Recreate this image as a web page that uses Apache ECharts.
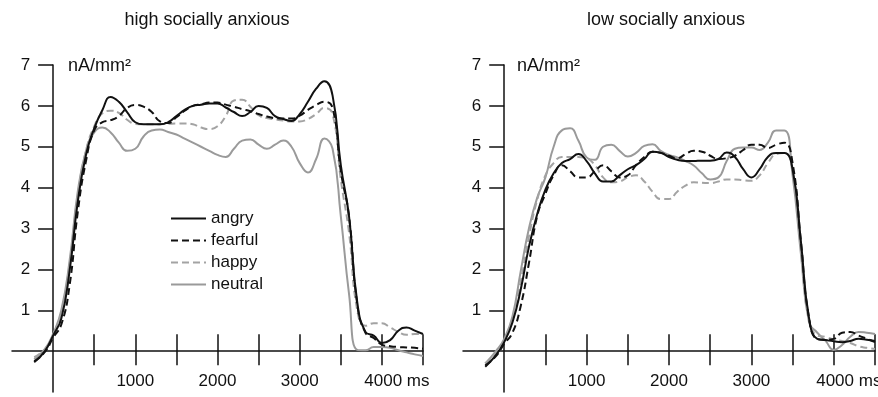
<!DOCTYPE html>
<html>
<head>
<meta charset="utf-8">
<script src="https://cdn.jsdelivr.net/npm/echarts@6/dist/echarts.min.js"></script>
<style>
  html, body { margin: 0; padding: 0; background: #fff; }
  #chart { width: 878px; height: 397px; }
</style>
</head>
<body>
<div id="chart"></div>
<script>
  // time points (ms)
  const times = [-230, -100, 0, 100, 200, 300, 400, 500, 600, 700, 800, 900,
    1000, 1100, 1200, 1300, 1400, 1500, 1600, 1700, 1800, 1900,
    2000, 2100, 2200, 2300, 2400, 2500, 2600, 2700, 2800, 2900,
    3000, 3100, 3200, 3300, 3400, 3500, 3600, 3700, 3800, 3900,
    4000, 4100, 4200, 4300, 4400, 4500]

  const emotions = ['angry', 'fearful', 'happy', 'neutral']

  // high socially anxious
  const highAngry = [-0.27, 0.0, 0.38, 0.8, 1.95, 3.65, 4.8, 5.45, 5.9, 6.22, 6.1, 5.85,
    5.6, 5.55, 5.55, 5.55, 5.6, 5.75, 5.9, 6.0, 6.03, 6.06,
    6.06, 5.96, 5.85, 5.75, 5.85, 6.0, 5.95, 5.75, 5.68, 5.63,
    5.8, 6.1, 6.42, 6.6, 6.25, 4.55, 3.3, 1.2, 0.47, 0.38,
    0.2, 0.27, 0.5, 0.58, 0.5, 0.42]
  const highFearful = [-0.25, -0.02, 0.33, 0.65, 1.6, 3.4, 4.65, 5.4, 5.6, 5.65, 5.75, 5.95,
    6.02, 5.98, 5.85, 5.62, 5.58, 5.72, 5.88, 6.0, 6.04, 6.08,
    6.08, 6.03, 5.98, 5.92, 5.87, 5.8, 5.74, 5.7, 5.69, 5.69,
    5.76, 5.9, 6.02, 6.1, 5.95, 4.4, 3.3, 1.15, 0.45, 0.32,
    0.16, 0.12, 0.1, 0.09, 0.08, 0.06]
  const highHappy = [-0.15, 0.05, 0.4, 0.95, 2.1, 3.8, 4.9, 5.5, 5.82, 5.88, 5.83, 5.66,
    5.56, 5.55, 5.55, 5.55, 5.56, 5.57, 5.57, 5.55, 5.47, 5.43,
    5.5, 5.75, 6.13, 6.15, 5.98, 5.77, 5.7, 5.67, 5.64, 5.62,
    5.62, 5.68, 5.8, 5.95, 5.8, 4.2, 2.9, 1.0, 0.62, 0.68,
    0.68, 0.58, 0.47, 0.4, 0.42, 0.42]
  const highNeutral = [-0.2, 0.05, 0.42, 1.0, 2.2, 3.9, 4.9, 5.35, 5.47, 5.35, 5.1, 4.9,
    4.95, 5.25, 5.4, 5.42, 5.36, 5.3, 5.2, 5.1, 5.0, 4.9,
    4.8, 4.75, 4.95, 5.15, 5.18, 5.05, 4.95, 5.05, 5.15, 5.0,
    4.6, 4.37, 4.7, 5.2, 4.95, 3.3, 1.4, 0.03, 0.02, 0.1,
    0.1, 0.08, 0.02, -0.03, -0.08, -0.12]

  // low socially anxious
  const lowAngry = [-0.38, -0.1, 0.22, 0.7, 1.5, 2.55, 3.35, 3.95, 4.35, 4.6, 4.7, 4.82,
    4.65, 4.35, 4.15, 4.15, 4.3, 4.45, 4.55, 4.7, 4.88, 4.85,
    4.75, 4.68, 4.65, 4.65, 4.66, 4.66, 4.7, 4.86, 4.75, 4.45,
    4.25, 4.45, 4.75, 4.85, 4.85, 4.45, 2.7, 0.8, 0.3, 0.27,
    0.24, 0.22, 0.25, 0.3, 0.28, 0.25]
  const lowFearful = [-0.35, -0.12, 0.18, 0.45, 1.1, 2.15, 3.3, 3.85, 4.3, 4.55, 4.4, 4.25,
    4.25, 4.4, 4.55, 4.4, 4.25, 4.3, 4.55, 4.75, 4.88, 4.85,
    4.78, 4.72, 4.82, 4.9, 4.88, 4.78, 4.7, 4.72, 4.78, 4.92,
    5.05, 5.05, 4.97, 5.05, 5.1, 4.6, 2.7, 0.8, 0.3, 0.28,
    0.3, 0.45, 0.47, 0.38, 0.3, 0.22]
  const lowHappy = [-0.3, -0.05, 0.25, 0.8, 1.7, 2.8, 3.7, 4.3, 4.6, 4.75, 4.75, 4.75,
    4.72, 4.55, 4.25, 4.13, 4.15, 4.25, 4.3, 4.15, 3.9, 3.72,
    3.72, 3.9, 4.05, 4.13, 4.12, 4.11, 4.15, 4.2, 4.2, 4.18,
    4.17, 4.3, 4.6, 4.82, 4.85, 4.4, 2.6, 0.8, 0.38, 0.35,
    0.28, 0.25, 0.2, 0.12, 0.08, 0.05]
  const lowNeutral = [-0.3, 0.0, 0.3, 0.85, 1.95, 3.0, 3.75, 4.25, 5.0, 5.4, 5.45, 5.15,
    4.74, 4.68, 5.0, 5.05, 4.9, 4.76, 4.85, 5.02, 5.06, 4.9,
    4.8, 4.74, 4.65, 4.54, 4.35, 4.2, 4.25, 4.65, 4.95, 4.98,
    4.98, 4.92, 5.1, 5.4, 5.4, 4.3, 2.4, 0.7, 0.45, 0.25,
    0.03, 0.15, 0.35, 0.47, 0.45, 0.42]

  // ticks and labels
  const xTicks = [500, 1000, 1500, 2000, 2500, 3000, 3500, 4000, 4500]
  const xLabels = [1000, 2000, 3000, 4000]
  const yTicks = [1, 2, 3, 4, 5, 6, 7]

  const font = "'Liberation Sans', Arial, sans-serif"
  const ink = '#111'

  const styles = {
    angry: { color: '#111', type: 'solid' },
    fearful: { color: '#111', type: [7, 4] },
    happy: { color: '#a3a3a3', type: [7, 4] },
    neutral: { color: '#9a9a9a', type: 'solid' }
  }

  // grid boxes: x from -500 to 4500, y from -1 to 7
  const grids = [
    { left: 12, top: 65, width: 411, height: 327 },
    { left: 463, top: 65, width: 412, height: 327 }
  ]
  // shift axes from the grid edge to the zero line
  const xShift = 327 / 8
  const yShift = (g) => (g.width * 500) / 5000

  const pairs = (vals) => vals.map((v, i) => [times[i], v])

  const makeSeries = (gridIndex, list) =>
    list.map((vals, i) => {
      const name = emotions[i]
      return {
        name,
        type: 'line',
        xAxisIndex: gridIndex * 2,
        yAxisIndex: gridIndex,
        data: pairs(vals),
        smooth: 0.5,
        symbol: 'none',
        z: 10 - i,
        color: styles[name].color,
        lineStyle: { width: 2, color: styles[name].color, type: styles[name].type }
      }
    })

  const makeX = (gridIndex) => [
    {
      type: 'value',
      gridIndex,
      min: -500,
      max: 4500,
      position: 'bottom',
      offset: -xShift,
      axisLine: { onZero: false, lineStyle: { color: ink, width: 1.5 } },
      axisTick: { length: 14, customValues: xTicks, lineStyle: { color: ink, width: 1.5 } },
      axisLabel: {
        customValues: xLabels,
        margin: 22,
        color: ink,
        fontSize: 17,
        fontFamily: font,
        formatter: (v) => (v === 4000 ? '{p|4000 ms}' : String(v)),
        rich: { p: { padding: [0, 0, 0, 30], fontSize: 17, fontFamily: font, color: ink } }
      },
      splitLine: { show: false }
    },
    {
      type: 'value',
      gridIndex,
      min: -500,
      max: 4500,
      position: 'bottom',
      offset: -xShift,
      axisLine: { show: false, onZero: false },
      axisTick: { inside: true, length: 17, customValues: xTicks, lineStyle: { color: ink, width: 1.5 } },
      axisLabel: { show: false },
      splitLine: { show: false }
    }
  ]

  const makeY = (gridIndex) => ({
    type: 'value',
    gridIndex,
    min: -1,
    max: 7,
    interval: 1,
    position: 'left',
    offset: -yShift(grids[gridIndex]),
    axisLine: { show: true, onZero: false, lineStyle: { color: ink, width: 1.5 } },
    axisTick: { show: true, length: 15, customValues: yTicks, lineStyle: { color: ink, width: 1.5 } },
    axisLabel: { customValues: yTicks, margin: 23, color: ink, fontSize: 17, fontFamily: font },
    splitLine: { show: false }
  })

  const chart = echarts.init(document.getElementById('chart'))
  chart.setOption({
    animation: false,
    title: [
      { text: 'high socially anxious', left: 202, top: 6, textAlign: 'center',
        textStyle: { fontSize: 18, fontWeight: 'normal', color: ink, fontFamily: font } },
      { text: 'low socially anxious', left: 661, top: 6, textAlign: 'center',
        textStyle: { fontSize: 18, fontWeight: 'normal', color: ink, fontFamily: font } }
    ],
    legend: {
      data: emotions,
      orient: 'vertical',
      left: 165,
      top: 205,
      itemWidth: 35,
      itemHeight: 14,
      itemGap: 5,
      itemStyle: { opacity: 0 },
      textStyle: { fontSize: 17, color: ink, fontFamily: font }
    },
    graphic: [
      { type: 'text', left: 68, top: 57, style: { text: 'nA/mm²', fontSize: 18, fill: ink, fontFamily: font } },
      { type: 'text', left: 517, top: 57, style: { text: 'nA/mm²', fontSize: 18, fill: ink, fontFamily: font } }
    ],
    grid: grids.map((g) => ({ ...g, outerBoundsMode: 'none' })),
    xAxis: [...makeX(0), ...makeX(1)],
    yAxis: [makeY(0), makeY(1)],
    series: [
      ...makeSeries(0, [highAngry, highFearful, highHappy, highNeutral]),
      ...makeSeries(1, [lowAngry, lowFearful, lowHappy, lowNeutral])
    ]
  })
</script>
</body>
</html>
